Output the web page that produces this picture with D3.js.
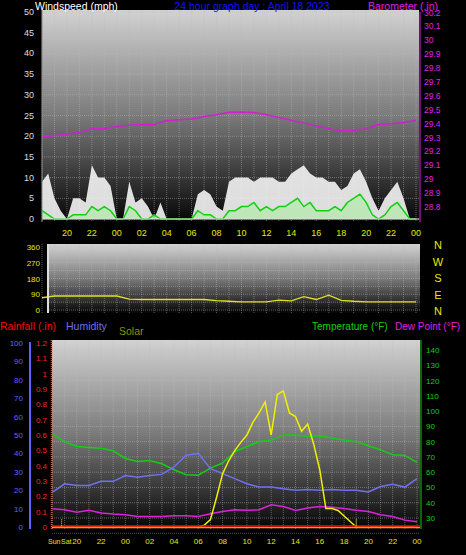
<!DOCTYPE html>
<html><head><meta charset="utf-8">
<script src="https://cdn.jsdelivr.net/npm/d3@7"></script>
<style>body{margin:0;background:#000}svg{display:block;font-family:"Liberation Sans",Arial,sans-serif}</style>
</head><body>
<svg id="c" width="466" height="555"></svg>
<script>
// hours since 18:00 of previous day (0..30), half-hour steps
const halfHours = d3.range(0, 30.01, 0.5);
const windGust = [9,11,5,2,0,5,5,4,13,10,10,8,0,0,9,4,5,3,0,4,0,0,0,0,0,6,7,6,3,2,9,10,10,10,9,10,10,10,9,9,11,12,13,11,10,10,9,9,7,8,11,12,9,5,2,5,7,9,5,0,0];
const windAvg  = [2,1,0,0,0,1,1,1,3,2,3,2,0,0,3,2,0,0,1,0,0,0,0,0,0,2,1,1,0,0,2,2,3,3,4,2,3,2,3,3,4,5,3,4,2,2,2,3,2,4,5,6,4,1,0,1,3,4,2,0,0];
const hours = d3.range(0, 31, 1);
const barometer = [29.30,29.31,29.32,29.335,29.36,29.36,29.375,29.385,29.39,29.39,29.418,29.425,29.43,29.447,29.46,29.478,29.48,29.477,29.46,29.44,29.42,29.40,29.38,29.36,29.345,29.347,29.36,29.39,29.395,29.405,29.42];
const windDir = [70,80,80,80,80,80,80,62,60,60,60,60,60,60,53,50,47,47,47,56,52,76,60,85,55,50,47,47,47,47,47];
const temperature = [84.9,80,76.8,76.2,75.7,74,69,67,67.7,65.5,61.6,58.3,58,62.7,66,73.5,76.8,80,81,84.4,84.4,83.4,83.8,82.3,81,80,77.3,74.6,71.4,71,66.4];
const humidity = [19,23.5,22.6,22.6,24.8,24.8,28,27,28,28.6,32.6,39,40,31.7,29,26.3,23.5,21.7,21.7,20.8,20,20.4,20,20.4,20,20,19,22,23.2,21.7,26.3];
const dewPoint = [36,35.4,33.7,35,33.3,32.6,32.2,31,31,31,31.5,31.5,31,32.8,34.3,35.4,35,35.4,38.6,37.5,35,36.5,37.5,37,36.2,35,34.3,32.2,31,28.6,27.5];
const solar = [0,0,0,0,0,0,0,0,0,0,0,0,0,0,0,0,0,0,0,0,0,0,0,0,0,10,40,160,290,360,415,460,500,570,620,680,500,720,740,620,600,520,560,450,310,100,100,90,60,30,0,0,0,0,0,0,0,0,0,0,0];
const timeTicks = d3.range(2, 31, 2);
const tickLabel = t => String((18 + t) % 24).padStart(2, "0");
const windTicks = d3.range(0, 51, 5);
const baroTicks = [28.8,28.9,29.0,29.1,29.2,29.3,29.4,29.5,29.6,29.7,29.8,29.9,30.0,30.1,30.2];
const dirTicks = [0,90,180,270,360];
const compass = ["N","W","S","E","N"];
const humTicks = d3.range(0, 101, 10);
const rainTicks = [0,0.1,0.2,0.3,0.4,0.5,0.6,0.7,0.8,0.9,1,1.1,1.2];
const tempTicks = d3.range(30, 141, 10);

const svg = d3.select("#c");
const defs = svg.append("defs");
const g = defs.append("linearGradient").attr("id","bg").attr("x1",0).attr("x2",0).attr("y1",0).attr("y2",1);
g.append("stop").attr("offset","0").attr("stop-color","#d2d2d2");
g.append("stop").attr("offset","0.5").attr("stop-color","#7a7a7a");
g.append("stop").attr("offset","1").attr("stop-color","#050505");

function panel(x0,y0,x1,y1){
  svg.append("rect").attr("x",x0).attr("y",y0).attr("width",x1-x0).attr("height",y1-y0).attr("fill","url(#bg)");
}
function grid(x, y, xs, ys, x0, x1, y0, y1){
  svg.append("g").selectAll("line").data(xs).join("line")
    .attr("x1",d=>x(d)).attr("x2",d=>x(d)).attr("y1",y0).attr("y2",y1)
    .attr("stroke","#bbb").attr("stroke-opacity",0.45).attr("stroke-dasharray","1,1");
  svg.append("g").selectAll("line").data(ys).join("line")
    .attr("y1",d=>y(d)).attr("y2",d=>y(d)).attr("x1",x0).attr("x2",x1)
    .attr("stroke","#bbb").attr("stroke-opacity",0.45).attr("stroke-dasharray","1,1");
}
function text(x,y,s,fill,size,anchor){
  return svg.append("text").attr("x",x).attr("y",y).text(s).attr("fill",fill).attr("font-size",size).attr("text-anchor",anchor||"start");
}

// ---------- Panel 1 ----------
const x1s = d3.scaleLinear().domain([0,30]).range([42,416]);
const yW = d3.scaleLinear().domain([0,50]).range([219,12]);
const yB = d3.scaleLinear().domain([29.3,30.2]).range([137,12]);
panel(42,10,419,222);
grid(x1s, yW, hours, windTicks, 42, 419, 10, 222);
svg.append("path").datum(windGust).attr("fill","#f4f4f4").attr("fill-opacity",0.9)
  .attr("d", d3.area().x((d,i)=>x1s(halfHours[i])).y0(yW(0)).y1(d=>yW(d)));
svg.append("path").datum(windAvg).attr("fill","#b8e8b0").attr("fill-opacity",0.8)
  .attr("d", d3.area().x((d,i)=>x1s(halfHours[i])).y0(yW(0)).y1(d=>yW(d)).curve(d3.curveStep));
svg.append("path").datum(windAvg).attr("fill","none").attr("stroke","#10d010").attr("stroke-width",1.5)
  .attr("d", d3.line().x((d,i)=>x1s(halfHours[i])).y(d=>yW(d)));
svg.append("line").attr("x1",42).attr("x2",419).attr("y1",yW(0)).attr("y2",yW(0)).attr("stroke","#ddd");
svg.append("path").datum(barometer).attr("fill","none").attr("stroke","#d020d0").attr("stroke-width",1.5)
  .attr("d", d3.line().x((d,i)=>x1s(hours[i])).y(d=>yB(d)));
svg.append("line").attr("x1",42).attr("x2",42).attr("y1",10).attr("y2",222).attr("stroke","#888");
svg.append("g").selectAll("text").data(windTicks).join("text").attr("x",34).attr("y",d=>yW(d)+3)
  .attr("text-anchor","end").attr("font-size",9).attr("fill","#ddd").text(d=>d);
svg.append("g").selectAll("text").data(baroTicks).join("text").attr("x",424).attr("y",d=>yB(d)+3.5)
  .attr("font-size",8.5).attr("fill","#e020e0").text(d=>d3.format(".1f")(d).replace(/\.0$/,""));
svg.append("line").attr("x1",420).attr("x2",420).attr("y1",12).attr("y2",222).attr("stroke","#e020e0");
svg.append("g").selectAll("text").data(timeTicks).join("text").attr("x",d=>x1s(d)).attr("y",236)
  .attr("text-anchor","middle").attr("font-size",9).attr("fill","#e8e800").text(tickLabel);
text(35,9.5,"Windspeed (mph)","#fff",10.5);
text(252,9.5,"24 hour graph day : April 18 2023","#1010ff",10.5,"middle");
text(438,9.5,"Barometer (.in)","#e020e0",10.5,"end");

// ---------- Panel 2 ----------
const yD = d3.scaleLinear().domain([0,360]).range([310,247]);
panel(47,244,420,313);
grid(x1s, yD, hours, d3.range(0,361,45), 47, 420, 244, 313);
svg.append("path").datum(windDir).attr("fill","none").attr("stroke","#e0e020").attr("stroke-width",1.3)
  .attr("d", d3.line().x((d,i)=>x1s(hours[i])).y(d=>yD(d)));
svg.append("line").attr("x1",48).attr("x2",48).attr("y1",244).attr("y2",313).attr("stroke","#ddd").attr("stroke-width",2);
svg.append("g").selectAll("text").data(dirTicks).join("text").attr("x",40).attr("y",d=>yD(d)+3)
  .attr("text-anchor","end").attr("font-size",8).attr("fill","#e8e800").text(d=>d);
svg.append("g").selectAll("text").data(compass).join("text").attr("x",438).attr("y",(d,i)=>249+i*16.5)
  .attr("text-anchor","middle").attr("font-size",11).attr("fill","#e8e800").text(d=>d);

// ---------- Panel 3 ----------
const x3 = d3.scaleLinear().domain([0,30]).range([52.5,417]);
const yH = d3.scaleLinear().domain([0,100]).range([527,343]);
const yR = d3.scaleLinear().domain([0,1.2]).range([527,343]);
const yT = d3.scaleLinear().domain([30,140]).range([518,350]);
panel(52,340,420,529);
grid(x3, yT, hours, d3.range(20,141,10), 52, 420, 340, 529);
const line = (sc,xs) => d3.line().x((d,i)=>x3(xs[i])).y(d=>sc(d));
svg.append("path").datum(temperature).attr("fill","none").attr("stroke","#10d010").attr("stroke-width",1.5).attr("d",line(yT,hours));
svg.append("path").datum(humidity).attr("fill","none").attr("stroke","#7070f0").attr("stroke-width",1.5).attr("d",line(yH,hours));
svg.append("path").datum(dewPoint).attr("fill","none").attr("stroke","#e020e0").attr("stroke-width",1.5).attr("d",line(yT,hours));
const ySol = d3.scaleLinear().domain([0,1000]).range([527,343]);
svg.append("path").datum(solar).attr("fill","none").attr("stroke","#f0f000").attr("stroke-width",1.5).attr("d",line(ySol,halfHours));
svg.append("line").attr("x1",52).attr("x2",420).attr("y1",ySol(0)+0.5).attr("y2",ySol(0)+0.5).attr("stroke","#ff9900").attr("stroke-width",1.5);
svg.append("line").attr("x1",52).attr("x2",420).attr("y1",yR(0)-1).attr("y2",yR(0)-1).attr("stroke","#ff0000").attr("stroke-width",1.5);
[0.75,25].forEach(t=>svg.append("line").attr("x1",x3(t)).attr("x2",x3(t)).attr("y1",yR(0.05)).attr("y2",yR(0))
  .attr("stroke","#e8e800").attr("stroke-dasharray","1,1"));
svg.append("line").attr("x1",30).attr("x2",30).attr("y1",342).attr("y2",529).attr("stroke","#6060ff").attr("stroke-width",2);
svg.append("line").attr("x1",51.5).attr("x2",51.5).attr("y1",340).attr("y2",529).attr("stroke","#ff4040").attr("stroke-dasharray","1,1").attr("stroke-width",1.5);
svg.append("line").attr("x1",421).attr("x2",421).attr("y1",340).attr("y2",529).attr("stroke","#10d010");
svg.append("g").selectAll("text").data(humTicks).join("text").attr("x",23).attr("y",d=>yH(d)+3)
  .attr("text-anchor","end").attr("font-size",8).attr("fill","#6060ff").text(d=>d);
svg.append("g").selectAll("text").data(rainTicks).join("text").attr("x",47).attr("y",d=>yR(d)+3)
  .attr("text-anchor","end").attr("font-size",8).attr("fill","#ff2020").text(d=>d);
svg.append("g").selectAll("text").data(tempTicks).join("text").attr("x",426).attr("y",d=>yT(d)+3)
  .attr("font-size",8).attr("fill","#10d010").text(d=>d);
svg.append("g").selectAll("text").data(timeTicks).join("text").attr("x",d=>x3(d)).attr("y",544)
  .attr("text-anchor","middle").attr("font-size",8).attr("fill","#e8e800").text(tickLabel);
text(48,544,"Sun","#e8e800",7);
text(61,544,"Sat","#e8e800",7);
text(0,330,"Rainfall (.in)","#ff0000",10.5);
text(66,330,"Humidity","#7070f0",10.5);
text(119,335,"Solar","#909000",10.5);
text(312,330,"Temperature (°F)","#10d010",10);
text(395,330,"Dew Point (°F)","#e020e0",10);
</script>
</body></html>
